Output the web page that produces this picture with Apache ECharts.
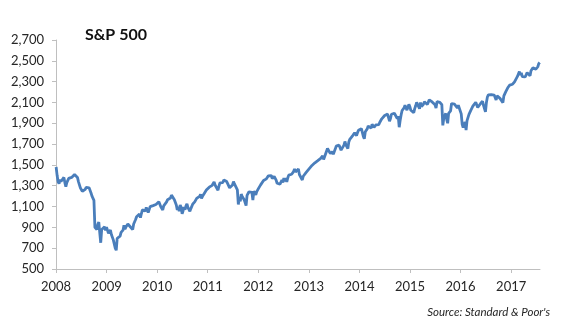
<!DOCTYPE html>
<html>
<head>
<meta charset="utf-8">
<script src="https://cdn.jsdelivr.net/npm/echarts@6/dist/echarts.min.js"></script>
<style>
html,body{margin:0;padding:0;background:#fff;}
#chart{width:571px;height:330px;}
</style>
</head>
<body>
<div id="chart"></div>
<script>
// Weekly (Wednesday) S&P 500 levels, starting 2008-01-02
const startDate = '2008-01-02';
const v2008 = [1480,1400,1340,1320,1360, 1340,1350,1350,1380, 1330,1290,1330,1340, 1370,1355,1365,1380,1385, 1392,1408,1425,1400, 1380,1340,1340,1280, 1285,1245,1260,1255,1265, 1285,1285,1275,1280, 1275,1230,1200,1185, 1160,900,910,880,930, 950,850,752,880, 870,880,905,870,903];
const v2009 = [907,842,840,874, 832,833,780,764, 700,680,795,813, 811,815,852,850,873, 919,883,903,893, 932,939,911,920, 923,879,932,954,975, 1002,1005,997,1028, 994,1033,1068,1060,1057, 1057,1092,1081,1043, 1046,1099,1109,1110, 1109,1095,1110,1120,1127];
const v2010 = [1137,1146,1138,1097, 1097,1068,1106,1105, 1119,1145,1166,1167,1169, 1182,1210,1206,1191, 1166,1171,1115,1068, 1098,1055,1114,1092,1031, 1060,1095,1069,1106, 1127,1089,1094,1055, 1080,1098,1125,1134,1145, 1160,1178,1178,1182, 1197,1218,1178,1198, 1207,1228,1236,1258,1259];
const v2011 = [1276,1286,1281,1296, 1304,1320,1336,1307, 1308,1320,1256,1297,1328, 1335,1314,1330,1356, 1347,1342,1340,1320, 1315,1280,1265,1287,1307, 1339,1317,1326,1305, 1261,1120,1193,1150,1219, 1198,1188,1166,1151, 1110,1207,1209,1242, 1237,1229,1236,1161,1247, 1261,1212,1243,1249];
const v2012 = [1277,1292,1308,1326, 1324,1350,1343,1358,1366, 1352,1395,1402,1405, 1398,1368,1385,1390, 1402,1354,1324,1318,1313, 1315,1314,1355,1332, 1374,1341,1372,1337, 1375,1402,1405,1413,1410, 1404,1436,1461,1433, 1450,1432,1460,1408,1412, 1394,1355,1391,1409, 1409,1428,1436,1419];
const v2013 = [1462,1461,1472,1495,1501, 1512,1520,1511,1516, 1541,1554,1558,1563, 1553,1588,1553,1578, 1582,1632,1658,1655,1648, 1608,1612,1628,1603, 1615,1652,1680,1685,1686, 1690,1685,1642,1635, 1653,1690,1725,1693, 1693,1656,1721,1746,1763, 1763,1782,1781,1807, 1792,1782,1810,1833];
const v2014 = [1848,1837,1848,1844,1774, 1751,1819,1829,1846, 1874,1868,1861,1852, 1890,1872,1862,1875,1884, 1868,1888,1888,1910, 1927,1943,1957,1959, 1975,1972,1981,1988,1970, 1920,1946,1987,2000, 2000,1996,2001,1998, 1946,1968,1862,1928,1982, 2023,2039,2048,2073, 2074,2026,2012,2082,2059];
const v2015 = [2025,2011,2032,2002, 2041,2068,2100,2113, 2099,2040,2099,2061, 2060,2082,2106,2107,2106, 2080,2098,2125,2123, 2114,2105,2100,2108, 2077,2046,2107,2114,2108, 2100,2086,2079,1880, 1948,1942,1995,1938,1900, 1995,1995,2018,2090, 2102,2075,2083,2089, 2079,2047,2073,2064,2063];
const v2016 = [1990,1890,1859,1882, 1912,1835,1926,1929, 1986,1989,2027,2036,2064, 2066,2082,2102,2095, 2051,2064,2047,2090, 2099,2112,2072,2085,2010, 2100,2152,2173,2166, 2163,2175,2182,2175,2171, 2186,2125,2164,2171, 2159,2139,2144,2139, 2098,2163,2177,2204,2199, 2241,2253,2266,2250];
const v2017 = [2270,2275,2272,2298, 2279,2295,2350,2363, 2396,2363,2385,2349,2361, 2353,2345,2338,2387, 2389,2399,2357,2404,2412, 2433,2438,2436,2419, 2432,2443,2473,2484];

const yTicks = [500,700,900,1100,1300,1500,1700,1900,2100,2300,2500,2700];
const xMin = '2008-01-01';
const xMax = '2017-07-28';

const values = [].concat(v2008,v2009,v2010,v2011,v2012,v2013,v2014,v2015,v2016,v2017);
const DAY = 24*3600*1000;
const t0 = Date.parse(startDate + 'T00:00:00');
const seriesData = values.map((v,i)=>[t0 + i*7*DAY, v]);

const chart = echarts.init(document.getElementById('chart'), null, {renderer:'canvas'});
const axisGray = '#bfbfbf';
const textCol = '#262626';
const font = 'Lato, "Open Sans", sans-serif';
chart.setOption({
  animation:false,
  backgroundColor:'#ffffff',
  title:{
    text:'S&P 500',
    left:80, top:22,
    textStyle:{fontFamily:font, fontWeight:'bold', fontSize:16, color:'#111'}
  },
  grid:{left:56, right:31, top:40, bottom:61, containLabel:false},
  xAxis:{
    type:'time',
    min:Date.parse(xMin+'T00:00:00'),
    max:Date.parse(xMax+'T00:00:00'),
    minInterval:365*DAY,
    maxInterval:366*DAY,
    splitLine:{show:false},
    axisLine:{lineStyle:{color:axisGray, width:1}},
    axisTick:{show:true, length:4, lineStyle:{color:axisGray}},
    axisLabel:{
      formatter:(val)=>String(new Date(val).getFullYear()),
      color:textCol, fontFamily:font, fontSize:13, margin:11,
      showMinLabel:true, showMaxLabel:false
    }
  },
  yAxis:{
    type:'value',
    min:yTicks[0], max:yTicks[yTicks.length-1], interval:200,
    splitLine:{show:false},
    axisLine:{show:true, lineStyle:{color:axisGray, width:1}},
    axisTick:{show:true, length:4, lineStyle:{color:axisGray}},
    axisLabel:{
      formatter:(v)=>v.toLocaleString('en-US'),
      color:textCol, fontFamily:font, fontSize:13, margin:12
    }
  },
  series:[{
    type:'line',
    data:seriesData,
    showSymbol:false,
    lineStyle:{color:'#4a7ebb', width:2.8},
    itemStyle:{color:'#4a7ebb'}
  }],
  graphic:[{
    type:'text',
    right:21, top:306,
    style:{text:"Source: Standard & Poor's", fill:textCol, font:'italic 11.5px Lato, "Open Sans", sans-serif'}
  }]
});
</script>
</body>
</html>
